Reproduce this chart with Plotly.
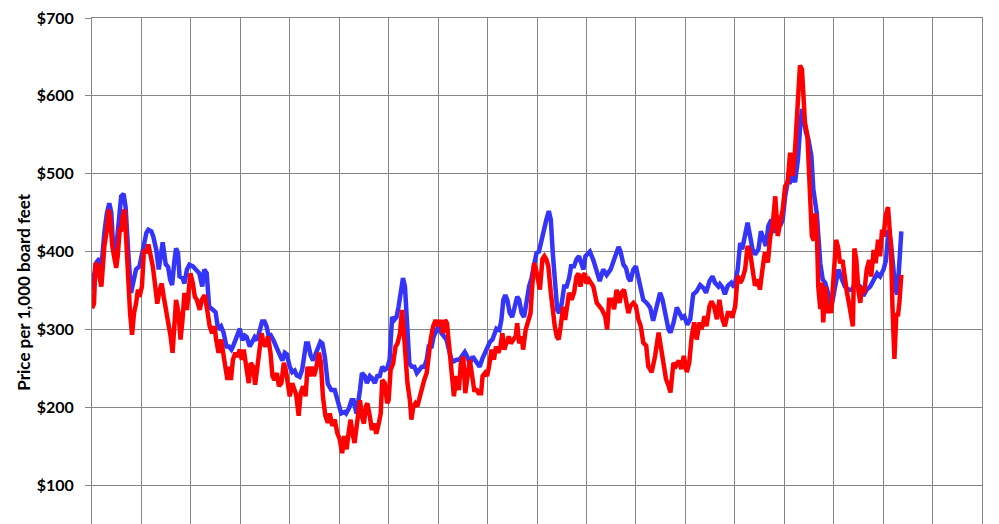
import numpy as np
import pandas as pd
import plotly.graph_objects as go

# Framing lumber prices (decimal year, $ per 1,000 board feet)
blue_years = [
    2004.00, 2004.08, 2004.15, 2004.19, 2004.25, 2004.30, 2004.35, 2004.39, 2004.42, 2004.46,
    2004.49, 2004.54, 2004.59, 2004.64, 2004.68, 2004.73, 2004.79, 2004.86, 2004.89, 2004.96,
    2005.03, 2005.10, 2005.14, 2005.20, 2005.24, 2005.30, 2005.35, 2005.40, 2005.43, 2005.49,
    2005.54, 2005.58, 2005.62, 2005.67, 2005.70, 2005.74, 2005.77, 2005.83, 2005.87, 2005.92,
    2005.97, 2006.04, 2006.11, 2006.17, 2006.23, 2006.27, 2006.32, 2006.37, 2006.45, 2006.50,
    2006.55, 2006.61, 2006.66, 2006.72, 2006.77, 2006.82, 2006.85, 2006.92, 2006.99, 2007.04,
    2007.09, 2007.13, 2007.19, 2007.24, 2007.29, 2007.34, 2007.39, 2007.44, 2007.49, 2007.53,
    2007.58, 2007.62, 2007.67, 2007.73, 2007.80, 2007.85, 2007.90, 2007.94, 2008.00, 2008.05,
    2008.10, 2008.14, 2008.20, 2008.25, 2008.30, 2008.33, 2008.37, 2008.42, 2008.47, 2008.52,
    2008.57, 2008.62, 2008.66, 2008.71, 2008.77, 2008.84, 2008.91, 2008.96, 2009.01, 2009.04,
    2009.11, 2009.14, 2009.20, 2009.25, 2009.29, 2009.35, 2009.42, 2009.46, 2009.52, 2009.56,
    2009.62, 2009.67, 2009.72, 2009.77, 2009.82, 2009.87, 2009.92, 2009.97, 2010.02, 2010.07,
    2010.11, 2010.16, 2010.20, 2010.25, 2010.29, 2010.33, 2010.37, 2010.42, 2010.47, 2010.52,
    2010.57, 2010.62, 2010.67, 2010.72, 2010.77, 2010.81, 2010.87, 2010.91, 2010.97, 2011.01,
    2011.07, 2011.12, 2011.17, 2011.22, 2011.27, 2011.32, 2011.37, 2011.43, 2011.48, 2011.54,
    2011.59, 2011.64, 2011.70, 2011.74, 2011.80, 2011.84, 2011.90, 2011.95, 2011.99, 2012.05,
    2012.10, 2012.15, 2012.18, 2012.24, 2012.28, 2012.32, 2012.36, 2012.40, 2012.45, 2012.50,
    2012.55, 2012.60, 2012.64, 2012.69, 2012.74, 2012.79, 2012.84, 2012.89, 2012.94, 2012.99,
    2013.04, 2013.09, 2013.14, 2013.19, 2013.24, 2013.28, 2013.32, 2013.36, 2013.41, 2013.45,
    2013.50, 2013.55, 2013.60, 2013.65, 2013.69, 2013.75, 2013.80, 2013.85, 2013.89, 2013.94,
    2013.98, 2014.04, 2014.07, 2014.14, 2014.21, 2014.27, 2014.34, 2014.41, 2014.49, 2014.56,
    2014.65, 2014.69, 2014.75, 2014.80, 2014.85, 2014.89, 2014.95, 2015.00, 2015.05, 2015.10,
    2015.15, 2015.22, 2015.29, 2015.35, 2015.42, 2015.49, 2015.54, 2015.60, 2015.66, 2015.70,
    2015.76, 2015.83, 2015.88, 2015.93, 2015.98, 2016.04, 2016.10, 2016.16, 2016.23, 2016.30,
    2016.37, 2016.42, 2016.49, 2016.55, 2016.60, 2016.67, 2016.70, 2016.75, 2016.80, 2016.86,
    2016.93, 2016.99, 2017.06, 2017.11, 2017.15, 2017.21, 2017.26, 2017.31, 2017.36, 2017.41,
    2017.48, 2017.53, 2017.58, 2017.63, 2017.68, 2017.74, 2017.80, 2017.85, 2017.92, 2017.97,
    2018.02, 2018.07, 2018.12, 2018.17, 2018.22, 2018.28, 2018.32, 2018.36, 2018.39, 2018.44,
    2018.49, 2018.55, 2018.59, 2018.63, 2018.66, 2018.73, 2018.78, 2018.83, 2018.90, 2018.96,
    2019.03, 2019.10, 2019.17, 2019.23, 2019.30, 2019.37, 2019.44, 2019.54, 2019.60, 2019.67,
    2019.74, 2019.81, 2019.88, 2019.94, 2020.01, 2020.06, 2020.11, 2020.16, 2020.20, 2020.25,
    2020.29, 2020.33, 2020.37,
]
blue_prices = [
    351, 385, 391, 380, 424, 449, 462, 450, 415, 402,
    404, 441, 471, 474, 457, 402, 347, 368, 377, 381,
    402, 424, 428, 426, 419, 402, 377, 406, 412, 384,
    380, 364, 357, 390, 404, 398, 368, 366, 359, 377,
    383, 381, 377, 372, 355, 377, 372, 329, 325, 322,
    300, 304, 296, 278, 278, 274, 278, 290, 301, 286,
    292, 290, 278, 284, 290, 286, 300, 310, 310, 304,
    290, 292, 286, 276, 267, 260, 270, 268, 252, 245,
    247, 241, 239, 248, 270, 282, 282, 267, 260, 268,
    278, 284, 282, 264, 230, 222, 222, 209, 200, 192,
    194, 192, 199, 209, 209, 192, 222, 244, 240, 231,
    240, 237, 231, 240, 240, 252, 248, 250, 261, 316,
    312, 316, 329, 351, 366, 355, 312, 256, 252, 252,
    244, 248, 252, 252, 261, 278, 278, 291, 299, 304,
    295, 291, 287, 274, 261, 259, 261, 261, 265, 271,
    265, 256, 265, 261, 256, 252, 263, 270, 274, 284,
    287, 297, 301, 299, 312, 338, 344, 338, 321, 316,
    329, 342, 338, 321, 316, 338, 355, 366, 381, 398,
    400, 415, 424, 441, 452, 441, 398, 355, 325, 321,
    333, 355, 355, 366, 381, 381, 390, 394, 385, 377,
    394, 398, 400, 389, 372, 362, 377, 370, 377, 389,
    406, 400, 383, 379, 366, 362, 377, 381, 368, 351,
    338, 334, 328, 311, 330, 347, 338, 321, 300, 296,
    308, 328, 321, 315, 317, 306, 313, 345, 349, 357,
    353, 347, 362, 368, 360, 355, 358, 354, 345, 356,
    360, 354, 377, 411, 403, 420, 437, 420, 403, 396,
    403, 426, 416, 407, 433, 441, 424, 446, 433, 441,
    471, 489, 489, 497, 489, 519, 557, 583, 574, 553,
    544, 523, 480, 463, 449, 385, 364, 360, 343, 330,
    355, 377, 364, 355, 351, 351, 360, 355, 343, 351,
    355, 364, 372, 368, 377, 389, 428, 411, 385, 351,
    345, 394, 426,
]

red_years = [
    2004.00, 2004.04, 2004.07, 2004.12, 2004.15, 2004.19, 2004.22, 2004.25, 2004.30, 2004.34,
    2004.37, 2004.41, 2004.46, 2004.49, 2004.52, 2004.56, 2004.59, 2004.62, 2004.66, 2004.69,
    2004.73, 2004.77, 2004.81, 2004.85, 2004.89, 2004.93, 2004.96, 2005.01, 2005.05, 2005.10,
    2005.14, 2005.18, 2005.23, 2005.28, 2005.32, 2005.37, 2005.41, 2005.45, 2005.50, 2005.55,
    2005.59, 2005.63, 2005.67, 2005.70, 2005.75, 2005.79, 2005.83, 2005.87, 2005.92, 2005.96,
    2005.99, 2006.04, 2006.08, 2006.12, 2006.18, 2006.22, 2006.28, 2006.33, 2006.38, 2006.43,
    2006.48, 2006.51, 2006.56, 2006.61, 2006.65, 2006.70, 2006.74, 2006.77, 2006.81, 2006.85,
    2006.90, 2006.94, 2006.99, 2007.03, 2007.07, 2007.12, 2007.17, 2007.21, 2007.26, 2007.30,
    2007.34, 2007.38, 2007.43, 2007.47, 2007.51, 2007.56, 2007.61, 2007.65, 2007.69, 2007.74,
    2007.78, 2007.83, 2007.88, 2007.92, 2007.96, 2008.00, 2008.05, 2008.09, 2008.13, 2008.18,
    2008.22, 2008.27, 2008.32, 2008.36, 2008.40, 2008.45, 2008.49, 2008.54, 2008.59, 2008.63,
    2008.67, 2008.72, 2008.77, 2008.81, 2008.86, 2008.91, 2008.96, 2009.01, 2009.06, 2009.10,
    2009.15, 2009.19, 2009.23, 2009.27, 2009.31, 2009.36, 2009.42, 2009.46, 2009.50, 2009.54,
    2009.57, 2009.62, 2009.66, 2009.71, 2009.75, 2009.80, 2009.84, 2009.87, 2009.92, 2009.97,
    2010.00, 2010.04, 2010.09, 2010.14, 2010.18, 2010.23, 2010.27, 2010.29, 2010.34, 2010.38,
    2010.43, 2010.46, 2010.50, 2010.54, 2010.58, 2010.63, 2010.68, 2010.72, 2010.77, 2010.81,
    2010.85, 2010.90, 2010.95, 2011.00, 2011.05, 2011.10, 2011.14, 2011.18, 2011.22, 2011.27,
    2011.32, 2011.37, 2011.42, 2011.46, 2011.51, 2011.55, 2011.60, 2011.64, 2011.69, 2011.73,
    2011.78, 2011.82, 2011.87, 2011.90, 2011.95, 2011.99, 2012.03, 2012.08, 2012.13, 2012.17,
    2012.22, 2012.26, 2012.30, 2012.34, 2012.38, 2012.43, 2012.47, 2012.52, 2012.57, 2012.60,
    2012.64, 2012.69, 2012.72, 2012.77, 2012.82, 2012.87, 2012.90, 2012.94, 2012.98, 2013.02,
    2013.06, 2013.11, 2013.15, 2013.19, 2013.23, 2013.28, 2013.32, 2013.36, 2013.40, 2013.44,
    2013.48, 2013.53, 2013.57, 2013.61, 2013.65, 2013.70, 2013.75, 2013.80, 2013.84, 2013.88,
    2013.92, 2013.97, 2014.00, 2014.05, 2014.14, 2014.21, 2014.26, 2014.31, 2014.38, 2014.42,
    2014.46, 2014.51, 2014.56, 2014.61, 2014.67, 2014.71, 2014.76, 2014.80, 2014.85, 2014.89,
    2014.95, 2015.00, 2015.05, 2015.10, 2015.15, 2015.21, 2015.25, 2015.32, 2015.39, 2015.46,
    2015.50, 2015.56, 2015.61, 2015.66, 2015.70, 2015.76, 2015.81, 2015.87, 2015.92, 2015.97,
    2016.03, 2016.08, 2016.13, 2016.18, 2016.23, 2016.29, 2016.33, 2016.39, 2016.43, 2016.49,
    2016.53, 2016.58, 2016.64, 2016.69, 2016.75, 2016.80, 2016.86, 2016.91, 2016.95, 2017.01,
    2017.06, 2017.11, 2017.15, 2017.21, 2017.26, 2017.31, 2017.36, 2017.41, 2017.47, 2017.51,
    2017.56, 2017.61, 2017.67, 2017.72, 2017.76, 2017.82, 2017.87, 2017.92, 2017.97, 2018.02,
    2018.07, 2018.12, 2018.17, 2018.22, 2018.28, 2018.32, 2018.36, 2018.39, 2018.42, 2018.47,
    2018.51, 2018.56, 2018.60, 2018.63, 2018.66, 2018.69, 2018.73, 2018.76, 2018.79, 2018.83,
    2018.88, 2018.92, 2018.95, 2019.00, 2019.05, 2019.09, 2019.13, 2019.18, 2019.22, 2019.27,
    2019.31, 2019.36, 2019.39, 2019.42, 2019.46, 2019.50, 2019.54, 2019.57, 2019.62, 2019.67,
    2019.72, 2019.76, 2019.81, 2019.85, 2019.90, 2019.94, 2019.98, 2020.01, 2020.05, 2020.10,
    2020.13, 2020.16, 2020.19, 2020.21, 2020.23, 2020.27, 2020.30, 2020.33, 2020.37,
]
red_prices = [
    327, 333, 385, 382, 368, 355, 381, 407, 428, 454,
    441, 407, 389, 379, 394, 428, 428, 445, 454, 415,
    359, 321, 293, 321, 333, 351, 342, 355, 402, 398,
    409, 398, 381, 355, 333, 351, 359, 342, 325, 308,
    291, 270, 317, 338, 321, 287, 312, 347, 325, 355,
    372, 359, 342, 338, 325, 338, 344, 325, 304, 295,
    304, 287, 270, 287, 270, 257, 235, 252, 235, 261,
    270, 265, 274, 261, 274, 252, 231, 257, 252, 229,
    252, 270, 295, 282, 278, 291, 270, 240, 235, 244,
    227, 231, 257, 248, 227, 214, 231, 222, 216, 189,
    218, 227, 214, 252, 240, 252, 240, 252, 270, 257,
    214, 189, 180, 192, 176, 184, 167, 159, 141, 163,
    146, 167, 184, 166, 154, 179, 209, 188, 179, 201,
    205, 188, 171, 179, 166, 179, 192, 235, 231, 205,
    209, 248, 256, 278, 282, 295, 325, 312, 270, 231,
    209, 184, 201, 205, 201, 214, 222, 235, 244, 270,
    287, 304, 312, 304, 312, 295, 312, 308, 278, 256,
    214, 240, 222, 256, 265, 218, 240, 261, 240, 222,
    222, 218, 218, 240, 244, 240, 252, 274, 261, 278,
    270, 278, 295, 274, 282, 291, 282, 287, 291, 308,
    282, 291, 274, 299, 312, 321, 351, 385, 377, 364,
    351, 390, 394, 390, 381, 347, 321, 304, 291, 287,
    304, 329, 312, 329, 347, 338, 347, 368, 372, 355,
    368, 372, 359, 364, 355, 334, 330, 326, 317, 300,
    338, 338, 326, 351, 334, 347, 351, 334, 321, 330,
    334, 330, 313, 304, 283, 279, 253, 245, 266, 296,
    279, 253, 236, 228, 219, 257, 253, 260, 249, 266,
    245, 257, 291, 309, 287, 309, 300, 317, 304, 330,
    336, 330, 313, 338, 313, 304, 321, 321, 315, 330,
    369, 360, 364, 377, 407, 399, 377, 356, 364, 351,
    377, 399, 386, 420, 429, 471, 420, 437, 454, 484,
    489, 527, 497, 531, 600, 639, 634, 600, 566, 549,
    493, 420, 414, 449, 428, 355, 326, 360, 309, 355,
    321, 330, 321, 364, 415, 406, 385, 389, 364, 347,
    334, 313, 304, 404, 389, 351, 334, 355, 347, 377,
    389, 368, 402, 385, 415, 394, 428, 419, 445, 457,
    436, 406, 330, 300, 262, 321, 317, 334, 370,
]

y_ticks = [100, 200, 300, 400, 500, 600, 700]


def to_dates(years):
    base = pd.Timestamp("2004-01-01")
    return base + pd.to_timedelta((np.array(years) - 2004) * 365.25, unit="D")


grid = "#868686"
font = "Lato"

fig = go.Figure()
fig.add_trace(go.Scatter(x=to_dates(blue_years), y=blue_prices, mode="lines",
                         line=dict(color="#3535FA", width=4.5), name="Framing lumber"))
fig.add_trace(go.Scatter(x=to_dates(red_years), y=red_prices, mode="lines",
                         line=dict(color="#FF0000", width=4.5), name="CME futures"))

fig.update_layout(
    width=999, height=524,
    margin=dict(l=92, r=17, t=18, b=0),
    plot_bgcolor="white", paper_bgcolor="white",
    showlegend=False,
    annotations=[dict(
        text="Price per 1,000 board feet", textangle=-90,
        xref="paper", yref="paper", x=-0.077, y=0.46,
        xanchor="center", yanchor="middle", showarrow=False,
        font=dict(family=font, size=17, color="black", weight="bold"),
    )],
)
fig.update_xaxes(
    type="date", range=["2004-01-01", "2022-01-01"],
    tick0="2004-01-01", dtick="M12",
    showgrid=True, gridcolor=grid, gridwidth=1,
    showticklabels=False, ticks="", automargin=False,
    showline=True, linecolor=grid, linewidth=1, mirror=True,
    zeroline=False,
)
fig.update_yaxes(
    range=[50, 700], tickvals=y_ticks,
    ticktext=["$" + str(v) for v in y_ticks],
    tickfont=dict(family=font, size=16, color="black", weight="bold"),
    ticks="outside", ticklen=6, tickcolor=grid, ticklabelstandoff=8,
    showgrid=True, gridcolor=grid, gridwidth=1, automargin=False,
    showline=True, linecolor=grid, linewidth=1, mirror=True,
    zeroline=False,
)

# drop the browser's default 8px page margin so the chart sits at the window corner
fig.write_html("out.html", config={"displayModeBar": False},
               post_script="document.body.style.margin='0px';")
